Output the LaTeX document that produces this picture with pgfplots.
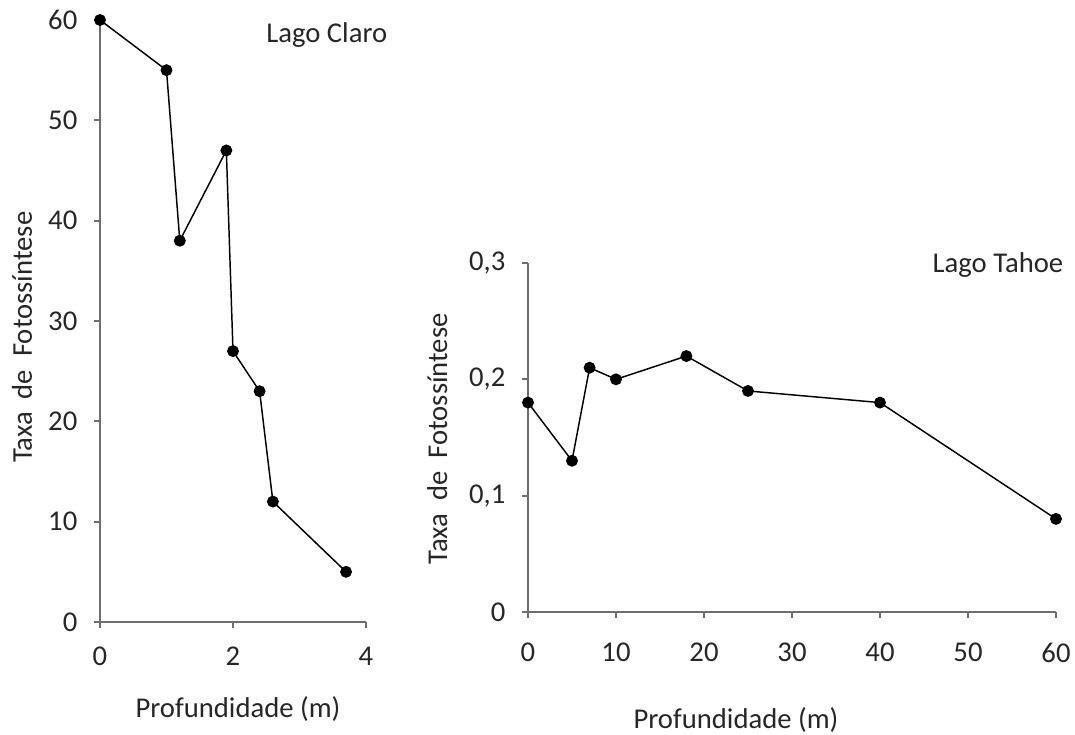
\documentclass[border=0pt]{standalone}
\usepackage{fontspec}
\setmainfont{Carlito}
\usepackage{pgfplots}
\pgfplotsset{compat=1.18}
\definecolor{axgrey}{HTML}{6E6E6E}
\begin{document}
\begin{tikzpicture}
\path[use as bounding box] (0pt,0pt) rectangle (806.25pt,551.25pt);
\pgfplotsset{
  myax/.style={
    scale only axis,
    anchor=origin,
    axis x line*=bottom, axis y line*=left,
    axis line style={axgrey, line width=1.5pt, -},
    major tick style={axgrey, line width=1.3pt},
    tick align=outside,
    major tick length=4.5pt,
    clip=false,
    font=\fontsize{21.5}{25}\selectfont,
    tick label style={font=\fontsize{21.5}{25}\selectfont, text=black!85},
    label style={font=\fontsize{21.5}{25}\selectfont, text=black!85},
    /pgf/number format/assume math mode=true,
    /pgf/number format/use comma,
    yticklabel style={xshift=-9pt},
  },
  myline/.style={black, line width=1.1pt, mark=*, mark size=3.9pt, mark options={fill=black}},
}
\begin{axis}[myax,
  at={(75pt,84.75pt)},
  width=199.5pt, height=451.5pt,
  xmin=0, xmax=4, ymin=0, ymax=60,
  xtick={0,2,4}, ytick={0,10,...,60},
  xticklabel style={yshift=-10.5pt},
  xlabel={Profundidade (m)},
  ylabel={Taxa\ \ de\ \ Fotoss\'intese},
  xlabel style={at={(axis description cs:0.519,-0.145)}, anchor=center},
  ylabel style={at={(axis description cs:-0.293,0.473)}, anchor=center},
]
\addplot[myline] coordinates {(0,60) (1,55) (1.2,38) (1.9,47) (2,27) (2.4,23) (2.6,12) (3.7,5)};
\node[font=\fontsize{21.5}{25}\selectfont, text=black!85] at (axis cs:3.41,58.5) {Lago Claro};
\end{axis}
\begin{axis}[myax,
  at={(396pt,92.25pt)},
  width=396pt, height=261.75pt,
  xmin=0, xmax=60, ymin=0, ymax=0.3,
  xtick={0,10,...,60}, ytick={0,0.1,0.2,0.3},
  xticklabel style={yshift=-15pt},
  yticklabel style={/pgf/number format/fixed, /pgf/number format/precision=1},
  xlabel={Profundidade (m)},
  ylabel={Taxa\ \ de\ \ Fotoss\'intese},
  xlabel style={at={(axis description cs:0.394,-0.309)}, anchor=center},
  ylabel style={at={(axis description cs:-0.172,0.496)}, anchor=center},
]
\addplot[myline] coordinates {(0,0.18) (5,0.13) (7,0.21) (10,0.2) (18,0.22) (25,0.19) (40,0.18) (60,0.08)};
\node[font=\fontsize{21.5}{25}\selectfont, text=black!85] at (axis cs:53.4,0.2985) {Lago Tahoe};
\end{axis}
\end{tikzpicture}
\end{document}
